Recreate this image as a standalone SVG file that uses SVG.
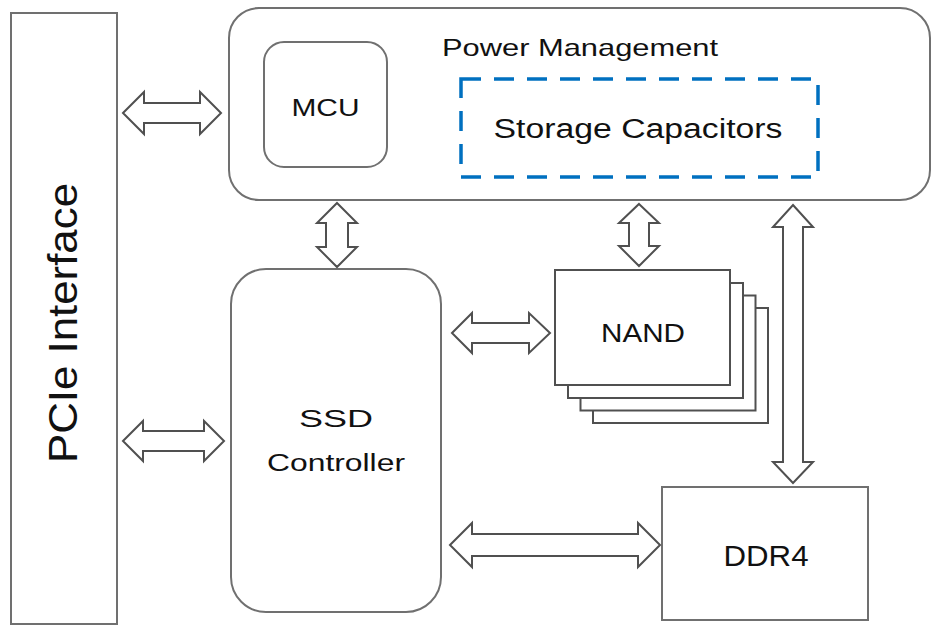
<svg xmlns="http://www.w3.org/2000/svg" width="931" height="626" viewBox="0 0 931 626">
<style>
.box{fill:#fff;stroke:#707070;stroke-width:2}
.nand{fill:#fff;stroke:#505050;stroke-width:2}
.arr{fill:#fff;stroke:#505050;stroke-width:2;stroke-linejoin:miter}
.t{font-family:"Liberation Sans",Arial,sans-serif;fill:#111}
.dash{fill:none;stroke:#0070C0;stroke-width:3.5;stroke-dasharray:20 13}
</style>
<rect width="931" height="626" fill="#fff"/>
<g id="pcie">
<rect class="box" x="11" y="13" width="106" height="611"/>
<text class="t" transform="translate(77,323) rotate(-90)" text-anchor="middle" font-size="41" textLength="280" lengthAdjust="spacingAndGlyphs">PCIe Interface</text>
</g>
<g id="power">
<rect class="box" x="229" y="8" width="701" height="192" rx="30"/>
<text class="t" x="442" y="56" font-size="24" textLength="276" lengthAdjust="spacingAndGlyphs">Power Management</text>
</g>
<g id="mcu">
<rect class="box" x="264" y="42" width="123" height="125" rx="20"/>
<text class="t" x="325.5" y="116" text-anchor="middle" font-size="24" textLength="68" lengthAdjust="spacingAndGlyphs">MCU</text>
</g>
<g id="caps">
<rect class="dash" x="461" y="79" width="357" height="98"/>
<text class="t" x="638" y="138" text-anchor="middle" font-size="27" textLength="289" lengthAdjust="spacingAndGlyphs">Storage Capacitors</text>
</g>
<g id="controller">
<rect class="box" x="231" y="269" width="210" height="343" rx="35"/>
<text class="t" x="336" y="427" text-anchor="middle" font-size="23" textLength="74" lengthAdjust="spacingAndGlyphs">SSD</text>
<text class="t" x="336" y="471" text-anchor="middle" font-size="23" textLength="138" lengthAdjust="spacingAndGlyphs">Controller</text>
</g>
<g id="nand">
<rect class="nand" x="593" y="308" width="175" height="115"/>
<rect class="nand" x="580.5" y="295.5" width="175" height="115"/>
<rect class="nand" x="568" y="283" width="175" height="115"/>
<rect class="nand" x="555" y="270" width="175" height="115"/>
<text class="t" x="643" y="342" text-anchor="middle" font-size="25" textLength="84" lengthAdjust="spacingAndGlyphs">NAND</text>
</g>
<g id="ddr4">
<rect class="box" x="662" y="487" width="206" height="133"/>
<text class="t" x="766" y="566" text-anchor="middle" font-size="30" textLength="85" lengthAdjust="spacingAndGlyphs">DDR4</text>
</g>
<g id="connectors">
<polygon class="arr" points="123,113 144,92 144,103 200,103 200,92 221,113 200,134 200,123 144,123 144,134"/>
<polygon class="arr" points="123,441 143,421 143,431 204,431 204,421 224,441 204,461 204,451 143,451 143,461"/>
<polygon class="arr" points="452,333 472,313 472,323 529,323 529,313 550,333 529,353 529,343 472,343 472,353"/>
<polygon class="arr" points="450,545 472,523 472,534 638,534 638,523 660,545 638,567 638,556 472,556 472,567"/>
<polygon class="arr" points="337,203 357,223 348,223 348,247 357,247 337,267 317,247 326,247 326,223 317,223"/>
<polygon class="arr" points="639,204 659,223 649,223 649,246 659,246 639,266 619,246 629,246 629,223 619,223"/>
<polygon class="arr" points="793,205 813,227 803,227 803,462 813,462 793,483 773,462 783,462 783,227 773,227"/>
</g>
</svg>
